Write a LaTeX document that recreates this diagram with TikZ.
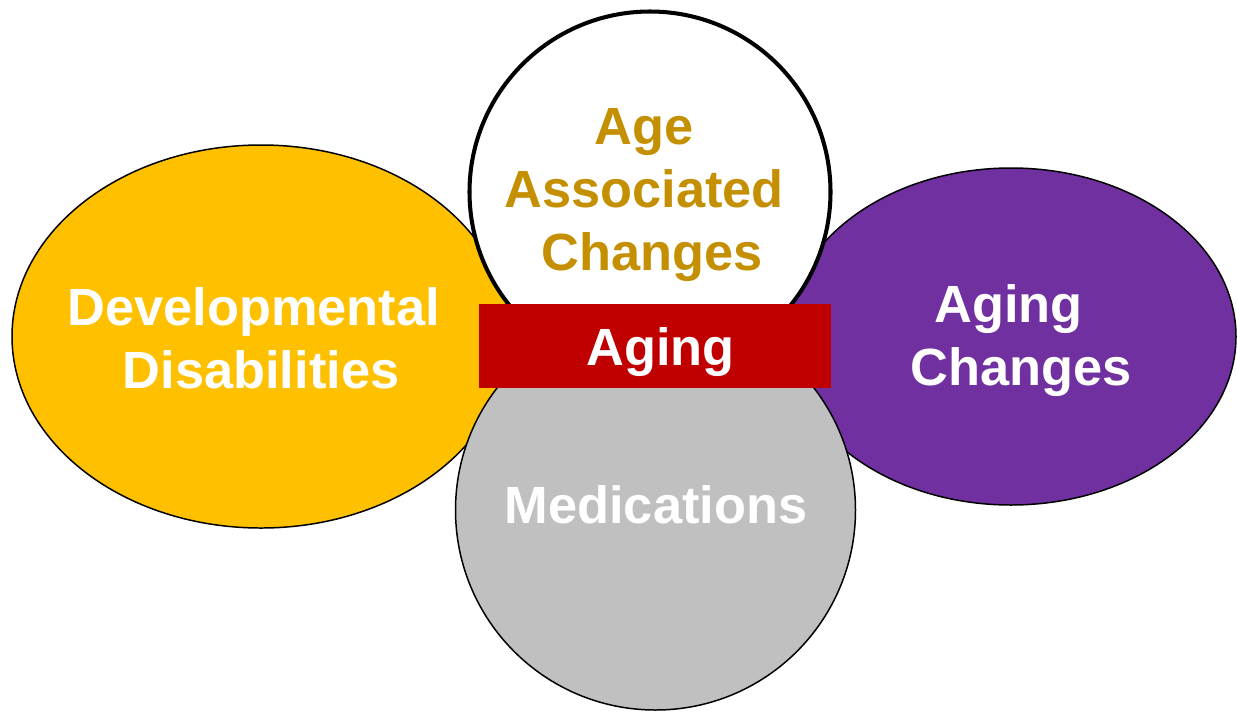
\documentclass[tikz,border=0pt]{standalone}
\usepackage{fontspec}
\setmainfont{Liberation Sans}
\begin{document}
\definecolor{ddyellow}{HTML}{FFC000}
\definecolor{ddpurple}{HTML}{7030A0}
\definecolor{ddgray}{HTML}{C0C0C0}
\definecolor{ddred}{HTML}{C00000}
\definecolor{ddgold}{HTML}{C48F00}
\begin{tikzpicture}[x=0.02cm,y=-0.02cm,
  blob/.style={draw=black,line width=0.85pt},
  label/.style={font=\fontsize{29.8}{35.8}\selectfont\bfseries,text=white,
    align=center,inner sep=0pt,anchor=base}]
\useasboundingbox (0,0) rectangle (1237,711);
% four overlapping areas
\path[blob,fill=ddyellow] (261,336.5) ellipse [x radius=249,y radius=191.5];
\path[blob,fill=ddpurple] (1011,336.5) ellipse [x radius=225,y radius=168.5];
\path[blob,fill=ddgray] (655.5,510) circle [radius=200];
\path[draw=black,line width=2.3pt,fill=white] (650,192) circle [radius=180.5];
% central bar
\node (bar) [fill=ddred,inner sep=0pt,minimum width=352*0.02cm,minimum height=84*0.02cm]
  at (655,346) {};
% labels (base anchor sits on the last line)
\node (dd) [label] at (261,388) {Developmental\hspace*{0.28em}\\Disabilities};
\node (aac) [label,text=ddgold] at (644,270) {Age\\Associated\\\hspace*{0.3em}Changes};
\node (ac) [label] at (1021.5,385) {Aging\hspace*{0.5em}\\Changes};
\node (med) [label] at (656,523) {Medications};
\node (ag) [label] at (660.5,365) {Aging};
\end{tikzpicture}
\end{document}
